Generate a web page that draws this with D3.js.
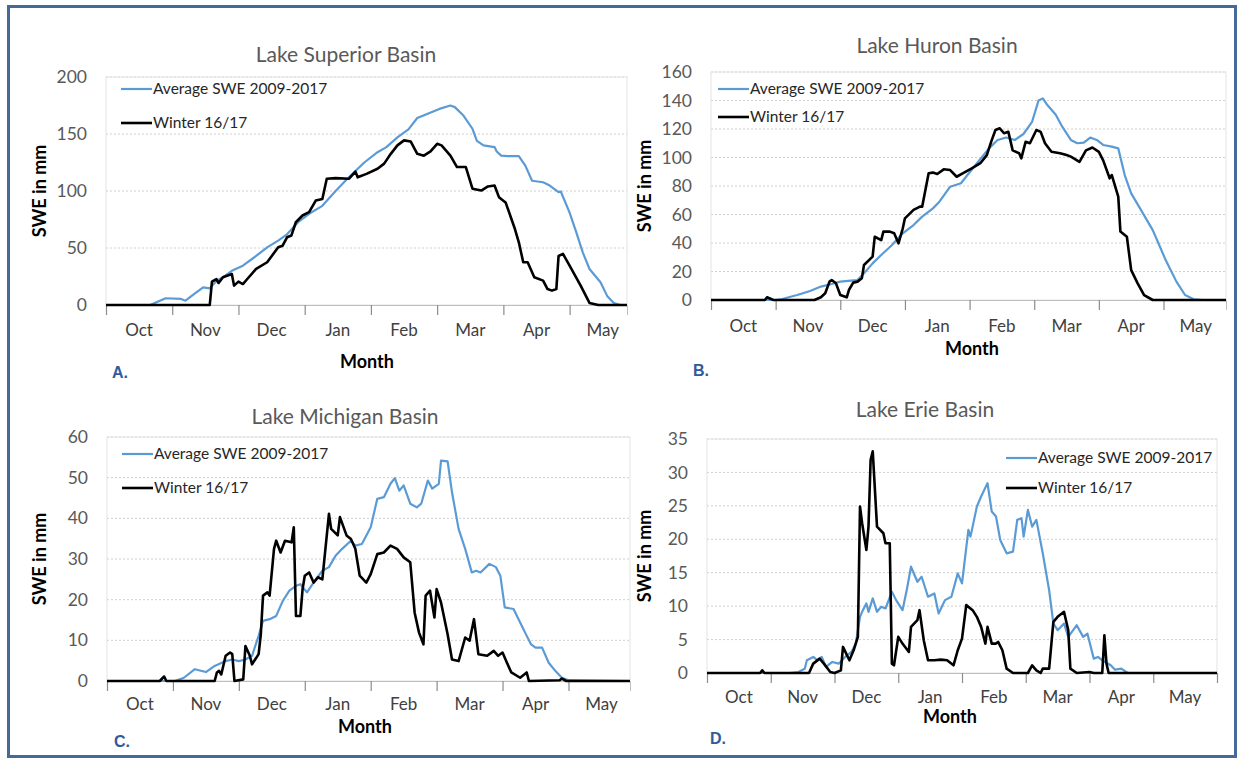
<!DOCTYPE html>
<html>
  <head>
    <meta charset="utf-8" />
    <style>
      body { margin: 0; background: #fff; }
      svg { display: block; }
      text { font-family: Lato, 'Open Sans', sans-serif; }
    </style>
  </head>
  <body>

<svg id="chart"></svg>

<script src="https://d3js.org/d3.v7.min.js"></script>
<script>
const WIDTH = 1241
const HEIGHT = 760

// month labels, one tick every 30 days starting 1 Oct
const MONTHS = ['Oct', 'Nov', 'Dec', 'Jan', 'Feb', 'Mar', 'Apr', 'May']
const DAYS_PER_TICK = 30
const SERIES_NAMES = ['Average SWE 2009-2017', 'Winter 16/17']

// y tick labels
const TICKS_SUPERIOR = [0, 50, 100, 150, 200]
const TICKS_HURON = [0, 20, 40, 60, 80, 100, 120, 140, 160]
const TICKS_MICHIGAN = [0, 10, 20, 30, 40, 50, 60]
const TICKS_ERIE = [0, 5, 10, 15, 20, 25, 30, 35]

// [day since 1 Oct, SWE in mm]
const superiorAvg = [[0,0],[20,0],[27,5.9],[34,5.3],[36,3.8],[40,9.7],[44,15.5],[47,14.6],[50,21],[54,25.8],[57,30],[62,34.5],[68,43],[73,50.6],[78,56.5],[82,62],[87,72.6],[92,80],[98,87],[104,100],[110,112],[117,125],[123,134],[127,138.5],[132,147],[137,154],[141,164],[146,168],[151,172],[156,175],[158,173.6],[162,166],[166,154.6],[168,144],[171,140],[176,138.5],[177,134.7],[179,131],[182,130.6],[187,130.6],[190,122],[193,109],[198,107.7],[201,104.8],[205,99],[206,99.6],[210,81],[213,64],[216,46],[219,31.6],[224,20],[227,8],[230,1.8],[233,0],[236,0]]
const superiorWinter = [[0,0],[47,0],[48,20.5],[50,22.8],[51,19.3],[53,24.3],[57,27.2],[58,17],[60,20.5],[62,18.4],[64,22.8],[68,31.6],[73,37.5],[78,50.6],[80,52],[82,59.4],[84,61],[86,72.6],[89,78.5],[92,81.4],[95,91.6],[98,93],[100,110.7],[104,111.3],[110,110.7],[113,117],[114,112],[118,115],[123,119.5],[126,124],[129,132.6],[132,140],[135,144.4],[138,143.5],[141,132.6],[144,131],[147,134.7],[150,141.4],[152,140],[156,131],[159,121],[163,121],[166,102],[170,100.4],[173,104],[176,104.8],[178,94.6],[181,90],[185,68],[187,55],[189,37.5],[191,37.5],[194,24.3],[198,21.4],[200,14],[202,12.6],[204,14],[205,43],[207,44.8],[210,34.5],[215,17],[219,1.8],[223,0],[236,0]]

const huronAvg = [[0,0],[30,0],[33,0.7],[40,3.5],[46,6.3],[51,9.4],[56,11.2],[60,12.9],[65,13.6],[68,14],[71,18.7],[75,25.7],[79,31.6],[84,38.6],[89,46.8],[94,52.6],[98,58.5],[103,64.3],[106,69],[111,79.5],[116,81.9],[119,87.7],[124,97],[129,106.4],[133,112.3],[137,114],[141,112.3],[145,116.5],[149,125],[152,140],[154,141.5],[156,137],[160,130],[163,121.6],[167,112.3],[170,110],[173,110.4],[176,114],[179,112.3],[182,108.8],[186,107.6],[189,106.4],[192,87.7],[195,74.8],[200,62],[205,49],[208,38.6],[211,28],[216,12.9],[220,3.5],[224,0.5],[228,0],[239,0]]
const huronWinter = [[0,0],[25,0],[26,1.9],[29,0],[48,0],[51,1.9],[53,4.7],[55,12.9],[56,14],[58,11.7],[60,3.5],[63,1.9],[64,7],[66,12.2],[68,12.9],[70,15.2],[71,24.6],[75,30.4],[76,44.4],[79,42],[80,48],[83,48],[85,46.8],[87,39.8],[89,50.3],[90,57.3],[94,63.2],[97,65.5],[98,65.5],[101,89],[103,89.4],[105,88.4],[108,91.7],[111,91.2],[114,86.5],[117,89],[121,92.4],[125,96],[128,101.7],[130,111],[132,119.3],[134,120.5],[136,117],[138,118],[140,105],[143,103],[144,99.4],[146,111],[148,110],[151,119.3],[153,118],[155,110],[158,104],[162,103],[165,101.7],[167,100.6],[171,97],[174,105],[177,107],[180,104],[182,98],[185,85.4],[186,87.7],[189,72.5],[190,48],[193,44.4],[195,21],[198,11.7],[201,3.5],[205,0],[239,0]]

const michiganAvg = [[0,0],[31,0],[35,0.8],[40,2.9],[45,2.2],[49,3.7],[54,4.9],[57,5.3],[60,4.9],[63,5.3],[66,6.2],[69,11.1],[71,14.8],[74,15.2],[77,16],[80,19.7],[83,22.2],[86,23.4],[88,23.8],[91,21.8],[95,25],[98,27.1],[101,28],[104,30.8],[107,32.5],[111,34.5],[113,33.3],[116,33.7],[120,37.8],[123,44.8],[126,45.2],[129,48.5],[131,49.9],[133,46.8],[135,48.1],[138,43.6],[141,42.7],[143,43.6],[146,49.3],[148,47.3],[151,48.5],[152,54.2],[155,54],[157,46.4],[160,37.4],[163,32.5],[166,26.7],[168,27.1],[170,26.7],[174,28.8],[177,28],[179,25.9],[181,18.1],[185,17.7],[188,14.4],[191,11.1],[193,9],[195,8.2],[198,8.2],[201,4.5],[204,2.5],[207,0.8],[210,0.2],[238,0]]
const michiganWinter = [[0,0],[24,0],[26,1.1],[27,0],[49,0],[50,2.1],[51,2.5],[52,1.6],[54,6.2],[56,7],[57,6.6],[58,0],[62,0.4],[63,8.6],[65,6.2],[66,4.1],[69,6.6],[70,11.5],[71,21],[73,21.8],[74,21],[76,32.5],[77,34.5],[79,31.6],[81,34.5],[84,34.1],[85,37.8],[86,16],[88,16],[89,22.6],[90,25.9],[92,26.7],[94,24.2],[96,25.5],[98,25],[101,41.1],[102,37.4],[105,35.8],[106,40.3],[109,35.8],[111,34.9],[113,32.5],[115,25.9],[118,24.2],[120,26.3],[123,31.2],[126,31.6],[129,33.3],[132,32.5],[135,30.4],[138,29.2],[140,16.8],[142,11.9],[144,9],[145,21],[147,22.2],[149,15.6],[150,22.6],[152,19.3],[155,11.5],[157,5.3],[160,4.9],[163,10.7],[165,9.9],[167,15.2],[169,6.6],[173,6.2],[176,7.4],[178,6.2],[180,7],[182,4.5],[184,2.1],[188,0.8],[191,2.1],[192,0],[206,0.2],[207,0.6],[209,0],[238,0]]

const erieAvg = [[0,0],[39,0],[43,0.15],[46,0.65],[47,1.9],[50,2.4],[52,1.9],[54,2.4],[56,0.9],[59,1.65],[62,1.4],[65,2.4],[68,3.15],[70,4.4],[72,8.4],[73,9.15],[75,10.4],[76,9.15],[78,11.15],[80,9.15],[82,9.9],[84,9.65],[87,12.15],[89,10.9],[92,9.4],[94,12.4],[96,15.9],[99,13.65],[101,14.4],[104,11.4],[107,11.9],[109,8.9],[112,10.9],[115,11.4],[118,14.9],[120,13.4],[123,21.4],[124,20.4],[127,24.9],[129,26.4],[132,28.4],[134,24.15],[136,23.4],[138,19.9],[141,17.9],[144,18.15],[146,22.9],[148,23.15],[149,20.4],[151,24.4],[153,21.9],[155,22.9],[158,17.9],[161,12.4],[163,7.4],[165,6.4],[168,7.4],[170,5.4],[174,7.15],[177,5.4],[179,5.9],[182,2.15],[184,2.4],[186,1.9],[190,1.15],[192,0.5],[195,0.65],[198,0],[240,0]]
const erieWinter = [[0,0],[25,0],[26,0.4],[27,0],[48,0],[50,1.4],[53,2.15],[55,1.4],[58,0.15],[60,0],[63,0.4],[64,3.9],[67,1.9],[69,3.4],[71,5.4],[72,24.9],[73,22.4],[75,18.4],[76,21.9],[77,31.9],[78,33.15],[80,21.9],[83,20.9],[84,19.4],[86,19.4],[87,1.4],[88,1.15],[90,5.4],[92,4.4],[95,3.15],[96,6.9],[99,7.9],[100,9.4],[102,4.9],[104,1.9],[107,1.9],[110,2],[113,1.9],[116,1.15],[118,3.4],[120,5.15],[122,10.15],[125,9.4],[127,8.4],[129,6.9],[131,4.4],[132,6.9],[134,4.4],[136,4.4],[137,4.65],[139,3.4],[141,0.65],[144,0],[151,0],[153,1.15],[155,0.4],[157,0],[158,0.65],[161,0.65],[163,7.65],[165,8.4],[168,9.15],[170,6.4],[171,0.65],[174,0],[180,0.15],[182,0],[186,0],[187,5.65],[188,1.4],[189,0],[240,0]]

// layout of the four panels
const PANELS = [
  { title: 'Lake Superior Basin', letter: 'A.', avg: superiorAvg, winter: superiorWinter, yTicks: TICKS_SUPERIOR, xEnd: 236,
    left: 106, right: 627, top: 77, bottom: 305, titleX: 346, titleY: 55, monthY: 330, xLabelX: 367, xLabelY: 362,
    yLabelX: 40, letterX: 112, letterY: 372, legX: 121, legY: [89, 123] },
  { title: 'Lake Huron Basin', letter: 'B.', avg: huronAvg, winter: huronWinter, yTicks: TICKS_HURON, xEnd: 239,
    left: 711, right: 1226, top: 72, bottom: 300, titleX: 937, titleY: 46, monthY: 326, xLabelX: 972, xLabelY: 349,
    yLabelX: 645, letterX: 693, letterY: 370, legX: 718, legY: [89, 117] },
  { title: 'Lake Michigan Basin', letter: 'C.', avg: michiganAvg, winter: michiganWinter, yTicks: TICKS_MICHIGAN, xEnd: 238,
    left: 107, right: 630, top: 437, bottom: 681, titleX: 345, titleY: 417, monthY: 704, xLabelX: 365, xLabelY: 727,
    yLabelX: 40, letterX: 114, letterY: 741, legX: 122, legY: [454, 488] },
  { title: 'Lake Erie Basin', letter: 'D.', avg: erieAvg, winter: erieWinter, yTicks: TICKS_ERIE, xEnd: 240,
    left: 707, right: 1217, top: 439, bottom: 673, titleX: 925, titleY: 410, monthY: 697, xLabelX: 950, xLabelY: 717,
    yLabelX: 645, letterX: 710, letterY: 738, legX: 1006, legY: [458, 488] },
]

const COLORS = ['#5b9bd5', '#000000']
const WIDTHS = [2.2, 2.6]

const svg = d3.select('#chart')
  .attr('width', WIDTH)
  .attr('height', HEIGHT)

svg.append('rect')
  .attr('width', WIDTH)
  .attr('height', HEIGHT)
  .attr('fill', '#fff')

// outer frame
svg.append('rect')
  .attr('x', 8.5)
  .attr('y', 6.5)
  .attr('width', 1227)
  .attr('height', 750)
  .attr('fill', 'none')
  .attr('stroke', '#46699a')
  .attr('stroke-width', 3)

PANELS.forEach(p => {
  const g = svg.append('g')

  const x = d3.scaleLinear().domain([0, p.xEnd]).range([p.left, p.right])
  const y = d3.scaleLinear().domain([0, d3.max(p.yTicks)]).range([p.bottom, p.top])

  // dotted grid
  g.selectAll('line.grid')
    .data(p.yTicks.filter(t => t > 0))
    .enter()
      .append('line')
      .attr('x1', p.left)
      .attr('x2', p.right)
      .attr('y1', d => y(d))
      .attr('y2', d => y(d))
      .attr('stroke', '#d0d0d0')
      .attr('stroke-dasharray', '2,2')

  // plot border
  g.append('rect')
    .attr('x', p.left)
    .attr('y', p.top)
    .attr('width', p.right - p.left)
    .attr('height', p.bottom - p.top)
    .attr('fill', 'none')
    .attr('stroke', '#e3e3e3')

  // y axis labels
  const yAxis = d3.axisLeft(y)
    .tickValues(p.yTicks)
    .tickSize(0)
    .tickPadding(19)
  const yg = g.append('g')
    .attr('transform', `translate(${p.left},0)`)
    .call(yAxis)
  yg.select('.domain').remove()
  yg.selectAll('text')
    .attr('fill', '#595959')
    .style('font-size', '17.5px')
    .style('font-family', 'Lato, sans-serif')

  // x axis with month boundary ticks
  const xAxis = d3.axisBottom(x)
    .tickValues(d3.range(0, p.xEnd + 1, DAYS_PER_TICK))
    .tickSize(10)
    .tickFormat('')
  const xg = g.append('g')
    .attr('transform', `translate(0,${p.bottom})`)
    .call(xAxis)
  xg.select('.domain').attr('stroke', '#bfbfbf')
  xg.selectAll('.tick line').attr('stroke', '#8c8c8c').attr('stroke-width', 1.2)

  g.selectAll('text.month')
    .data(MONTHS)
    .enter()
      .append('text')
      .attr('x', (d, i) => x(i * DAYS_PER_TICK + DAYS_PER_TICK / 2))
      .attr('y', p.monthY)
      .attr('dy', '0.35em')
      .attr('text-anchor', 'middle')
      .attr('fill', '#404040')
      .style('font-size', '17px')
      .text(d => d)

  // the two series
  const line = d3.line()
    .x(d => x(d[0]))
    .y(d => y(d[1]))
  ;[p.avg, p.winter].forEach((s, i) => {
    g.append('path')
      .datum(s)
      .attr('d', line)
      .attr('fill', 'none')
      .attr('stroke', COLORS[i])
      .attr('stroke-width', WIDTHS[i])
      .attr('stroke-linejoin', 'round')
  })

  // legend
  SERIES_NAMES.forEach((name, i) => {
    g.append('line')
      .attr('x1', p.legX)
      .attr('x2', p.legX + 31)
      .attr('y1', p.legY[i])
      .attr('y2', p.legY[i])
      .attr('stroke', COLORS[i])
      .attr('stroke-width', WIDTHS[i])
    g.append('text')
      .attr('x', p.legX + 32)
      .attr('y', p.legY[i])
      .attr('dy', '0.35em')
      .attr('fill', '#262626')
      .style('font-size', '15.5px')
      .text(name)
  })

  // titles and labels
  g.append('text')
    .attr('x', p.titleX)
    .attr('y', p.titleY)
    .attr('dy', '0.35em')
    .attr('text-anchor', 'middle')
    .attr('fill', '#595959')
    .style('font-size', '21px')
    .text(p.title)

  g.append('text')
    .attr('x', p.xLabelX)
    .attr('y', p.xLabelY)
    .attr('dy', '0.35em')
    .attr('text-anchor', 'middle')
    .attr('fill', '#000')
    .style('font-size', '18px')
    .style('font-weight', 'bold')
    .text('Month')

  g.append('text')
    .attr('transform', `translate(${p.yLabelX},${(p.top + p.bottom) / 2}) rotate(-90)`)
    .attr('dy', '0.35em')
    .attr('text-anchor', 'middle')
    .attr('fill', '#000')
    .style('font-size', '18px')
    .style('font-weight', 'bold')
    .text('SWE in mm')

  g.append('text')
    .attr('x', p.letterX)
    .attr('y', p.letterY)
    .attr('dy', '0.35em')
    .attr('fill', '#2f5b9c')
    .style('font-size', '16px')
    .style('font-weight', 'bold')
    .style('font-family', "'Liberation Sans', Arial, sans-serif")
    .text(p.letter)
})

</script>
  </body>
</html>
